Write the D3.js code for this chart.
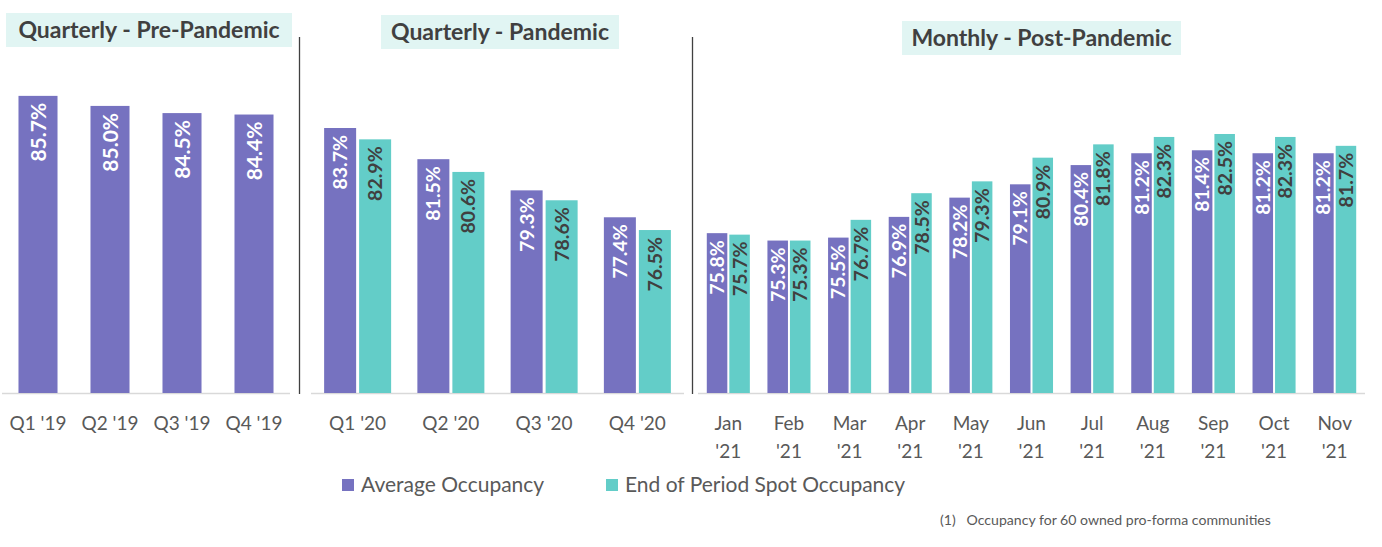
<!DOCTYPE html>
<html>
<head>
<meta charset="utf-8">
<script src="https://cdn.jsdelivr.net/npm/d3@7"></script>
<style>
  html, body { margin: 0; padding: 0; background: #ffffff; }
  svg { display: block; }
</style>
</head>
<body>
<svg id="chart" width="1382" height="547"></svg>
<script>
// ---------------- DATA ----------------
const preCategories = ["Q1 '19", "Q2 '19", "Q3 '19", "Q4 '19"];
const preAverage = [85.7, 85.0, 84.5, 84.4];

const panCategories = ["Q1 '20", "Q2 '20", "Q3 '20", "Q4 '20"];
const panAverage = [83.7, 81.5, 79.3, 77.4];
const panSpot = [82.9, 80.6, 78.6, 76.5];

const postMonths = ["Jan", "Feb", "Mar", "Apr", "May", "Jun", "Jul", "Aug", "Sep", "Oct", "Nov"];
const postYear = "'21";
const postAverage = [75.8, 75.3, 75.5, 76.9, 78.2, 79.1, 80.4, 81.2, 81.4, 81.2, 81.2];
const postSpot = [75.7, 75.3, 76.7, 78.5, 79.3, 80.9, 81.8, 82.3, 82.5, 82.3, 81.7];

const seriesNames = ["Average Occupancy", "End of Period Spot Occupancy"];
const panelTitles = ["Quarterly - Pre-Pandemic", "Quarterly - Pandemic", "Monthly - Post-Pandemic"];
const footnote = "(1)   Occupancy for 60 owned pro-forma communities";

// ---------------- STYLE ----------------
const PURPLE = "#7672c0";
const TEAL = "#63cdc8";
const DARK = "#404040";
const GRAY = "#595959";
const FONT = "Lato, 'Noto Sans', sans-serif";
const fmt = v => d3.format(".1f")(v) + "%";

const svg = d3.select("#chart");
const baseY = 393;
const topY = 93;

const panels = [
  { title: panelTitles[0], cats: preCategories, series: [preAverage], range: [2, 290],
    outerPad: 0.458, yMax: 85.9, labelSize: 21, box: [6, 13, 286, 34] },
  { title: panelTitles[1], cats: panCategories, series: [panAverage, panSpot], range: [311, 684],
    outerPad: 0.2815, innerPad: 0.0857, yMax: 86.17, labelSize: 19.5, box: [381, 15, 238, 34] },
  { title: panelTitles[2], cats: postMonths, series: [postAverage, postSpot], range: [698, 1365],
    outerPad: 0.29, innerPad: 0.089, yMax: 85.27, labelSize: 19.5, box: [902, 21, 279, 34], twoLine: true }
];

const colors = [PURPLE, TEAL];
const labelColors = ["#ffffff", DARK];

panels.forEach(p => {
  const g = svg.append("g");
  const x0 = d3.scaleBand().domain(p.cats).range(p.range)
    .paddingInner(p.outerPad).paddingOuter(p.outerPad / 2);
  const y = d3.scaleLinear().domain([65, p.yMax]).range([baseY, topY]);
  const sIdx = p.series.map((_, i) => i);
  const x1 = d3.scaleBand().domain(sIdx).range([0, x0.bandwidth()])
    .paddingInner(p.innerPad || 0).paddingOuter(0);

  // axis line
  g.append("line")
    .attr("x1", p.range[0]).attr("x2", p.range[1])
    .attr("y1", baseY + 0.5).attr("y2", baseY + 0.5)
    .attr("stroke", "#d9d9d9").attr("stroke-width", 1.5);

  // bars
  p.series.forEach((vals, si) => {
    const data = p.cats.map((c, i) => ({ c, v: vals[i] }));
    g.selectAll(null).data(data).enter().append("rect")
      .attr("x", d => x0(d.c) + x1(si))
      .attr("y", d => y(d.v))
      .attr("width", x1.bandwidth())
      .attr("height", d => baseY - y(d.v))
      .attr("fill", colors[si]);
    g.selectAll(null).data(data).enter().append("text")
      .attr("transform", d => `translate(${x0(d.c) + x1(si) + x1.bandwidth() / 2},${y(d.v) + 7}) rotate(-90)`)
      .attr("text-anchor", "end")
      .attr("dy", "0.36em")
      .attr("font-family", FONT)
      .attr("font-weight", 700)
      .attr("font-size", p.labelSize)
      .attr("fill", labelColors[si])
      .text(d => fmt(d.v));
  });

  // category labels
  const tl = g.selectAll(null).data(p.cats).enter().append("text")
    .attr("x", d => x0(d) + x0.bandwidth() / 2)
    .attr("y", 430)
    .attr("text-anchor", "middle")
    .attr("font-family", FONT)
    .attr("font-size", 19)
    .attr("fill", GRAY);
  if (p.twoLine) {
    tl.append("tspan").attr("x", d => x0(d) + x0.bandwidth() / 2).text(d => d);
    tl.append("tspan").attr("x", d => x0(d) + x0.bandwidth() / 2).attr("dy", 28).text(postYear);
  } else {
    tl.text(d => d);
  }

  // title box
  const [bx, by, bw, bh] = p.box;
  g.append("rect").attr("x", bx).attr("y", by).attr("width", bw).attr("height", bh)
    .attr("fill", "#e1f5f3");
  g.append("text")
    .attr("x", bx + bw / 2).attr("y", by + bh / 2)
    .attr("dy", "0.35em")
    .attr("text-anchor", "middle")
    .attr("font-family", FONT)
    .attr("font-weight", 700)
    .attr("font-size", 23)
    .attr("fill", DARK)
    .text(p.title);
});

// dividers
[299.5, 692.5].forEach(xv => {
  svg.append("line").attr("x1", xv).attr("x2", xv).attr("y1", 37).attr("y2", 394)
    .attr("stroke", DARK).attr("stroke-width", 1.3);
});

// legend
const legend = svg.append("g");
const legendItems = [
  { name: seriesNames[0], color: PURPLE, x: 342 },
  { name: seriesNames[1], color: TEAL, x: 606 }
];
legendItems.forEach(it => {
  legend.append("rect").attr("x", it.x).attr("y", 479).attr("width", 12).attr("height", 12)
    .attr("fill", it.color);
  legend.append("text").attr("x", it.x + 19).attr("y", 485).attr("dy", "0.35em")
    .attr("font-family", FONT).attr("font-size", 21).attr("fill", GRAY)
    .text(it.name);
});

// footnote
svg.append("text").attr("x", 940).attr("y", 520).attr("dy", "0.35em")
  .attr("font-family", FONT).attr("font-size", 14.1).attr("fill", GRAY)
  .attr("xml:space", "preserve")
  .text(footnote);
</script>
</body>
</html>
